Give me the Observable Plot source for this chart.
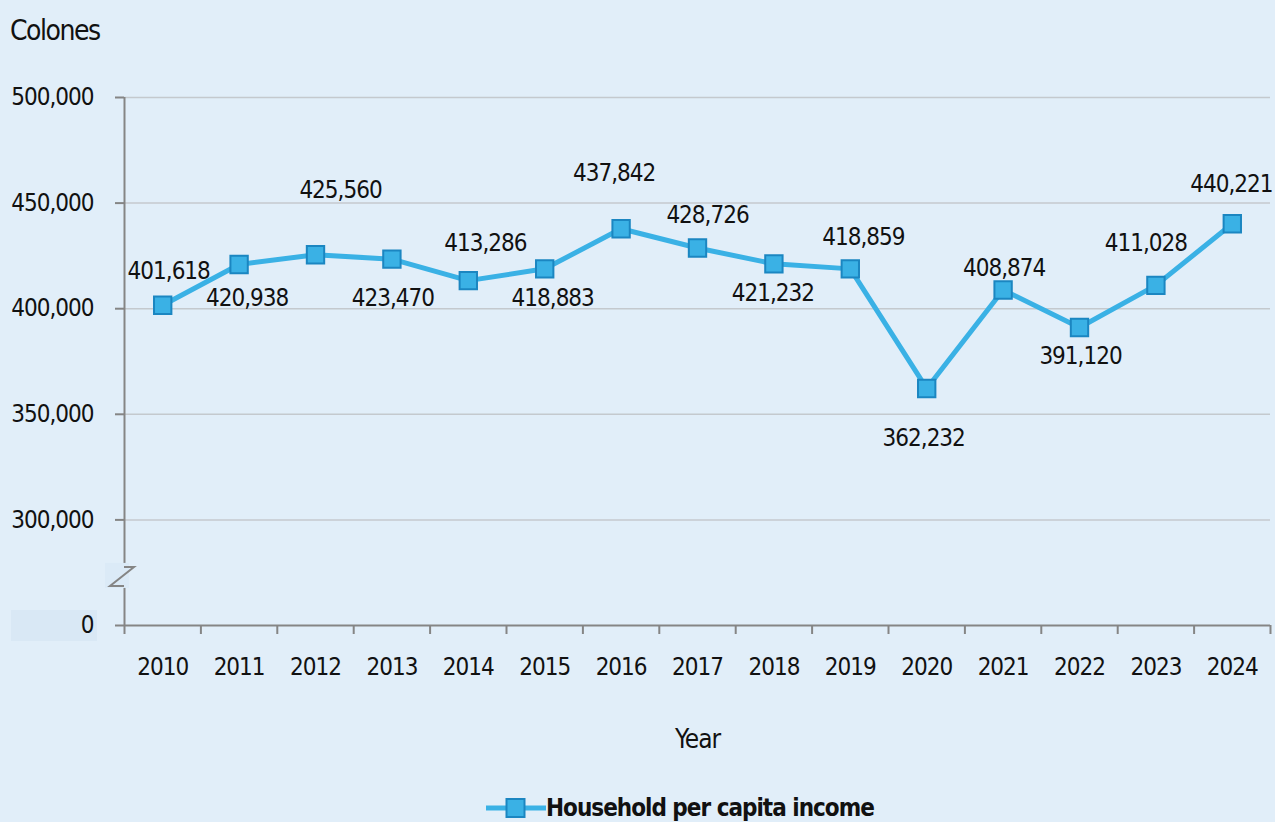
<!DOCTYPE html>
<html>
<head>
<meta charset="utf-8">
<script src="https://cdn.jsdelivr.net/npm/d3@7"></script>
<script src="https://cdn.jsdelivr.net/npm/@observablehq/plot@0.6"></script>
<style>
  html, body { margin: 0; padding: 0; background: #e1eef9; }
  #wrap { position: relative; width: 1275px; height: 822px; background: #e1eef9;
    font-family: "Liberation Sans Narrow", "DejaVu Sans Condensed", "Open Sans", sans-serif; font-stretch: condensed; color: #111; }
  #title { position: absolute; left: 10px; top: 12px; font-size: 28px; line-height: 38px; letter-spacing: -1.5px; }
  #chart { position: absolute; left: 0; top: 60px; }
  #chart svg text { letter-spacing: -1px; }
  #legend { position: absolute; left: 486px; top: 791px; height: 34px; display: flex; align-items: center; font-size: 24px; font-weight: bold; letter-spacing: -1px; }
  #zero-bg { position: absolute; left: 11px; top: 610px; width: 86px; height: 31px; background: #d9e8f5; }
</style>
</head>
<body>
<div id="wrap">
  <div id="zero-bg"></div>
  <div id="title">Colones</div>
  <div id="chart"></div>
  <div id="legend">
    <svg width="60" height="24" style="margin-right:0px">
      <line x1="0" x2="60" y1="12" y2="12" stroke="#3ab1e5" stroke-width="5"></line>
      <rect x="20.5" y="3" width="18" height="18" fill="#3ab1e5" stroke="#1b86c1" stroke-width="2"></rect>
    </svg>
    <span>Household per capita income</span>
  </div>
</div>
<script>
const years = [2010, 2011, 2012, 2013, 2014, 2015, 2016, 2017, 2018, 2019, 2020, 2021, 2022, 2023, 2024];
const income = [401618, 420938, 425560, 423470, 413286, 418883, 437842, 428726, 421232, 418859, 362232, 408874, 391120, 411028, 440221];
const yTicks = [250000, 300000, 350000, 400000, 450000, 500000];
const yTickLabels = ["0", "300,000", "350,000", "400,000", "450,000", "500,000"];
const seriesName = "Household per capita income";

// layout of value labels (pixel offsets from each point)
const labelDx = [6, 8, 25, 1, 17, 8, -7, 10, -1, 13, -3, 1, 1, -10, -1];
const labelDy = [-34, 34, -64, 39, -37, 29, -55, -33, 29, -32, 50, -22, 29, -42, -39];

const data = years.map((year, i) => ({year, value: income[i], label: d3.format(",")(income[i])}));
const bounds = d3.range(years[0] - 0.5, years[years.length - 1] + 1, 1);
const breakLow = 268500, breakHigh = 277500;

const axisColor = "#858585";
const lineColor = "#3ab1e5";
const font = '"Liberation Sans Narrow", "DejaVu Sans Condensed", "Open Sans", sans-serif';

const breakMark = (index, {x, y}) => {
  const x0 = x(bounds[0]);
  const yt = y(breakHigh), yb = y(breakLow);
  const g = d3.create("svg:g");
  g.append("rect").attr("x", x0 - 19).attr("y", yt - 4).attr("width", 24).attr("height", yb - yt + 6).attr("fill", "#dbeaf7");
  g.append("path")
    .attr("d", `M${x0},${yt}L${x0 + 10},${yt}L${x0 - 14},${yb}L${x0},${yb}`)
    .attr("fill", "none").attr("stroke", axisColor).attr("stroke-width", 2);
  return g.node();
};

const labelMarks = data.map((d, i) =>
  Plot.text([d], {x: "year", y: "value", text: "label", dx: labelDx[i], dy: labelDy[i], fontSize: 24, fill: "#111"})
);

const chart = Plot.plot({
  width: 1275,
  height: 700,
  marginTop: 37,
  marginBottom: 135,
  marginLeft: 124,
  marginRight: 5,
  style: {background: "transparent", fontFamily: font, fontStretch: "condensed", fontSize: "24px", color: "#111"},
  x: {type: "linear", domain: [bounds[0], bounds[bounds.length - 1]]},
  y: {domain: [250000, 500000]},
  marks: [
    Plot.ruleY(yTicks.slice(1), {stroke: "#c4c9ce", strokeWidth: 1.5}),
    Plot.ruleX([bounds[0]], {y1: 250000, y2: breakLow, stroke: axisColor, strokeWidth: 2}),
    Plot.ruleX([bounds[0]], {y1: breakHigh, y2: 500000, stroke: axisColor, strokeWidth: 2}),
    Plot.ruleY([250000], {stroke: axisColor, strokeWidth: 2}),
    breakMark,
    Plot.axisY({ticks: yTicks, tickFormat: (d) => yTickLabels[yTicks.indexOf(d)], tickSize: 9, tickPadding: 22, stroke: axisColor, strokeWidth: 2, fontSize: 24, label: null, fill: "#111"}),
    Plot.axisX({ticks: bounds, tickFormat: () => "", tickSize: 9, stroke: axisColor, strokeWidth: 2, label: null}),
    Plot.axisX({ticks: years, tickFormat: (d) => String(d), tickSize: 0, tickPadding: 32, fontSize: 24, label: null, fill: "#111"}),
    Plot.text(["Year"], {frameAnchor: "bottom", dy: 122, fontSize: 26, fill: "#111"}),
    Plot.line(data, {x: "year", y: "value", stroke: lineColor, strokeWidth: 5}),
    Plot.dot(data, {x: "year", y: "value", symbol: "square", r: 9.8, fill: lineColor, stroke: "#1b86c1", strokeWidth: 2}),
    ...labelMarks
  ]
});
document.getElementById("chart").appendChild(chart);
</script>
</body>
</html>
